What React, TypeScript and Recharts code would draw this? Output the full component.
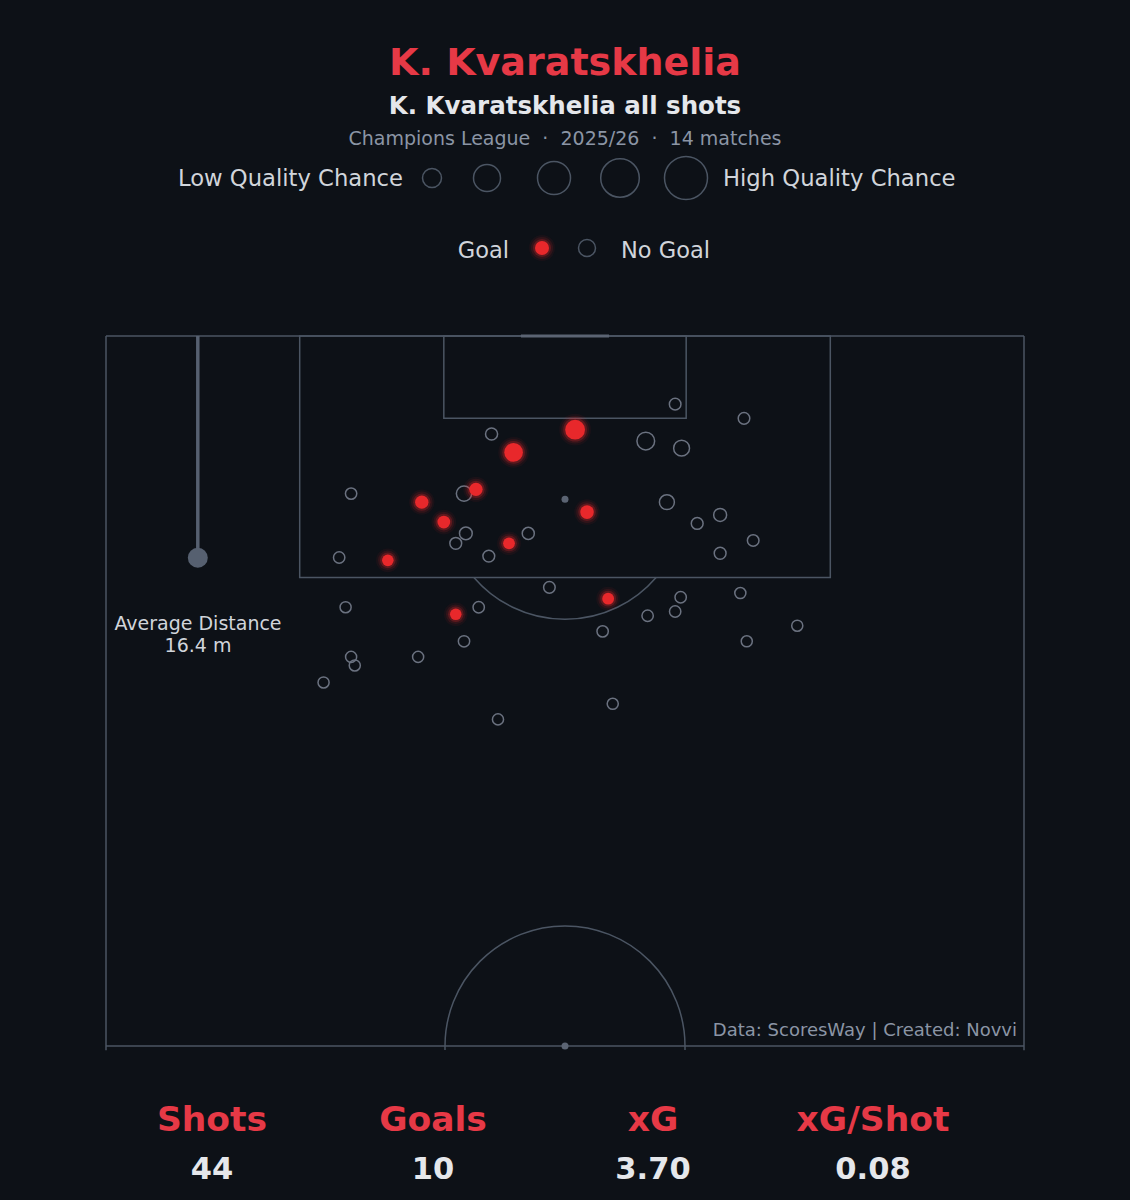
import {
  ReferenceArea,
  ReferenceDot,
  ReferenceLine,
  Scatter,
  ScatterChart,
  XAxis,
  YAxis,
} from "recharts";

// shots: across = pitch width (0-100), along = pitch length (Opta, 100 = goal line)
const goalAcross = [51.1, 44.4, 40.3, 34.4, 36.8, 52.4, 43.9, 30.7, 54.7, 38.1];
const goalAlong = [93.4, 91.8, 89.2, 88.3, 86.9, 87.6, 85.4, 84.2, 81.5, 80.4];
const goalXg = [0.5, 0.42, 0.12, 0.12, 0.09, 0.13, 0.05, 0.04, 0.05, 0.04];

const missAcross = [
  62.0, 69.5, 42.0, 58.8, 62.7, 26.7, 39.0, 61.1, 66.9, 64.4, 46.0, 39.2, 38.1,
  70.5, 25.4, 41.7, 66.9, 48.3, 69.1, 62.6, 26.1, 40.6, 62.0, 59.0, 54.1, 75.3,
  39.0, 69.8, 26.7, 27.1, 34.0, 23.7, 55.2, 42.7,
];
const missAlong = [
  95.2, 94.2, 93.1, 92.6, 92.1, 88.9, 88.9, 88.3, 87.4, 86.8, 86.1, 86.1, 85.4,
  85.6, 84.4, 84.5, 84.7, 82.3, 81.9, 81.6, 80.9, 80.9, 80.6, 80.3, 79.2, 79.6,
  78.5, 78.5, 77.4, 76.8, 77.4, 75.6, 74.1, 73.0,
];
const missXg = [
  0.04, 0.04, 0.06, 0.36, 0.25, 0.03, 0.22, 0.2, 0.1, 0.05, 0.06, 0.09, 0.05,
  0.04, 0.03, 0.05, 0.05, 0.04, 0.02, 0.03, 0.02, 0.03, 0.03, 0.03, 0.03, 0.02,
  0.03, 0.02, 0.02, 0.02, 0.02, 0.02, 0.02, 0.02,
];

const AVG_DISTANCE = 16.4; // metres
const LEGEND_SIZES = [9.5, 13.5, 16.5, 19.3, 21.5];

const goals = goalAcross.map((x, i) => ({ x, y: goalAlong[i], xg: goalXg[i] }));
const misses = missAcross.map((x, i) => ({ x, y: missAlong[i], xg: missXg[i] }));

const totalShots = goals.length + misses.length;
const totalXg = [...goalXg, ...missXg].reduce((s, v) => s + v, 0);

const W = 1130;
const H = 1200;
const LEFT = 106;
const TOP = 336;
const PW = 918;
const PH = 710;
const PX_ALONG = PH / 50;
const ARC_R = 120;

const BG = "#0d1117";
const LINE = "#4b5563";
const RING = "#6b7280";
const RED = "#e8282b";
const TITLE_RED = "#e63946";
const FONT = '"DejaVu Sans", Verdana, sans-serif';

const radius = (xg: number) => Math.sqrt(28 + 140 * xg);

const GoalDot = ({ cx, cy, r }: { cx: number; cy: number; r: number }) => (
  <g>
    <circle cx={cx} cy={cy} r={r + 6} fill={RED} opacity={0.06} />
    <circle cx={cx} cy={cy} r={r + 4} fill={RED} opacity={0.12} />
    <circle cx={cx} cy={cy} r={r + 2} fill={RED} opacity={0.25} />
    <circle cx={cx} cy={cy} r={r} fill={RED} />
  </g>
);

const avgAlong = 100 - AVG_DISTANCE / 1.05;

function App() {
  return (
    <div
      style={{
        position: "relative",
        width: W,
        height: H,
        background: BG,
        fontFamily: FONT,
      }}
    >
      <style>{`body{margin:0;background:${BG}}`}</style>
      <ScatterChart
        width={W}
        height={H}
        margin={{ top: TOP, left: LEFT, right: W - LEFT - PW, bottom: H - TOP - PH }}
      >
        <XAxis type="number" dataKey="x" domain={[0, 100]} hide allowDataOverflow />
        <YAxis type="number" dataKey="y" domain={[50, 100]} hide allowDataOverflow />

        {/* pitch */}
        <ReferenceLine segment={[{ x: 0, y: 49.7 }, { x: 0, y: 100 }]} stroke={LINE} strokeWidth={1.5} ifOverflow="visible" />
        <ReferenceLine segment={[{ x: 100, y: 49.7 }, { x: 100, y: 100 }]} stroke={LINE} strokeWidth={1.5} ifOverflow="visible" />
        <ReferenceLine segment={[{ x: 0, y: 100 }, { x: 100, y: 100 }]} stroke={LINE} strokeWidth={1.5} ifOverflow="visible" />
        <ReferenceLine segment={[{ x: 0, y: 50 }, { x: 100, y: 50 }]} stroke={LINE} strokeWidth={1.5} ifOverflow="visible" />
        <ReferenceLine segment={[{ x: 45.2, y: 100 }, { x: 54.8, y: 100 }]} stroke="#5b6473" strokeWidth={3} ifOverflow="visible" />
        <ReferenceArea x1={21.1} x2={78.9} y1={83} y2={100} fill="none" fillOpacity={0} stroke={LINE} strokeWidth={1.5} ifOverflow="visible" />
        <ReferenceArea x1={36.8} x2={63.2} y1={94.2} y2={100} fill="none" fillOpacity={0} stroke={LINE} strokeWidth={1.5} ifOverflow="visible" />
        <ReferenceDot
          x={50}
          y={88.5}
          r={3.5}
          ifOverflow="visible"
          shape={(p: any) => {
            const dy = (88.5 - 83) * PX_ALONG;
            const dx = Math.sqrt(ARC_R * ARC_R - dy * dy);
            return (
              <g>
                <path
                  d={`M ${p.cx - dx} ${p.cy + dy} A ${ARC_R} ${ARC_R} 0 0 0 ${p.cx + dx} ${p.cy + dy}`}
                  fill="none"
                  stroke={LINE}
                  strokeWidth={1.5}
                />
                <circle cx={p.cx} cy={p.cy} r={3.5} fill="#5b6473" />
              </g>
            );
          }}
        />
        <ReferenceDot
          x={50}
          y={50}
          r={3.5}
          ifOverflow="visible"
          shape={(p: any) => (
            <g>
              <path
                d={`M ${p.cx - ARC_R} ${p.cy + 4} L ${p.cx - ARC_R} ${p.cy} A ${ARC_R} ${ARC_R} 0 0 1 ${p.cx + ARC_R} ${p.cy} L ${p.cx + ARC_R} ${p.cy + 4}`}
                fill="none"
                stroke={LINE}
                strokeWidth={1.5}
              />
              <circle cx={p.cx} cy={p.cy} r={3.5} fill="#5b6473" />
            </g>
          )}
        />

        {/* average distance */}
        <ReferenceLine segment={[{ x: 10, y: 100 }, { x: 10, y: avgAlong }]} stroke="#566070" strokeWidth={3.5} ifOverflow="visible" />
        <ReferenceDot x={10} y={avgAlong} r={10} fill="#566070" stroke="none" ifOverflow="visible" />

        <Scatter
          data={misses}
          isAnimationActive={false}
          shape={(p: any) => (
            <circle cx={p.cx} cy={p.cy} r={radius(p.payload.xg)} fill="none" stroke={RING} strokeWidth={1.5} />
          )}
        />
        <Scatter
          data={goals}
          isAnimationActive={false}
          shape={(p: any) => <GoalDot cx={p.cx} cy={p.cy} r={radius(p.payload.xg)} />}
        />
      </ScatterChart>

      <svg
        width={W}
        height={H}
        style={{ position: "absolute", left: 0, top: 0, pointerEvents: "none" }}
        fontFamily={FONT}
      >
        <text x={565} y={62} textAnchor="middle" dominantBaseline="central" fontSize={38} fontWeight="bold" fill={TITLE_RED}>
          K. Kvaratskhelia
        </text>
        <text x={565} y={105} textAnchor="middle" dominantBaseline="central" fontSize={24.5} fontWeight="bold" fill="#e5e7eb">
          K. Kvaratskhelia all shots
        </text>
        <text x={565} y={138} textAnchor="middle" dominantBaseline="central" fontSize={19} fill="#8b95a5" style={{ whiteSpace: "pre" }}>
          {"Champions League  ·  2025/26  ·  14 matches"}
        </text>

        <text x={403} y={178} textAnchor="end" dominantBaseline="central" fontSize={22.7} fill="#d1d5db">
          Low Quality Chance
        </text>
        {LEGEND_SIZES.map((r, i) => (
          <circle key={i} cx={[432, 487, 554, 620, 686][i]} cy={178} r={r} fill="none" stroke={LINE} strokeWidth={1.5} />
        ))}
        <text x={723} y={178} textAnchor="start" dominantBaseline="central" fontSize={22.7} fill="#d1d5db">
          High Quality Chance
        </text>

        <text x={509} y={250} textAnchor="end" dominantBaseline="central" fontSize={22.5} fill="#d1d5db">
          Goal
        </text>
        <GoalDot cx={542} cy={248} r={7} />
        <circle cx={587} cy={248} r={8.5} fill="none" stroke={LINE} strokeWidth={1.5} />
        <text x={621} y={250} textAnchor="start" dominantBaseline="central" fontSize={22.5} fill="#d1d5db">
          No Goal
        </text>

        <text x={198} y={623} textAnchor="middle" dominantBaseline="central" fontSize={19} fill="#d1d5db">
          Average Distance
        </text>
        <text x={198} y={645} textAnchor="middle" dominantBaseline="central" fontSize={19} fill="#d1d5db">
          {`${AVG_DISTANCE.toFixed(1)} m`}
        </text>

        <text x={1017} y={1029} textAnchor="end" dominantBaseline="central" fontSize={18} fill="#8b95a5">
          Data: ScoresWay | Created: Novvi
        </text>

        {[
          ["Shots", String(totalShots), 212],
          ["Goals", String(goals.length), 433],
          ["xG", totalXg.toFixed(2), 653],
          ["xG/Shot", (totalXg / totalShots).toFixed(2), 873],
        ].map(([label, value, x]) => (
          <g key={label as string}>
            <text x={x as number} y={1119} textAnchor="middle" dominantBaseline="central" fontSize={34.5} fontWeight="bold" fill={TITLE_RED}>
              {label}
            </text>
            <text x={x as number} y={1168} textAnchor="middle" dominantBaseline="central" fontSize={30.5} fontWeight="bold" fill="#e5e7eb">
              {value}
            </text>
          </g>
        ))}
      </svg>
    </div>
  );
}

export default App;
